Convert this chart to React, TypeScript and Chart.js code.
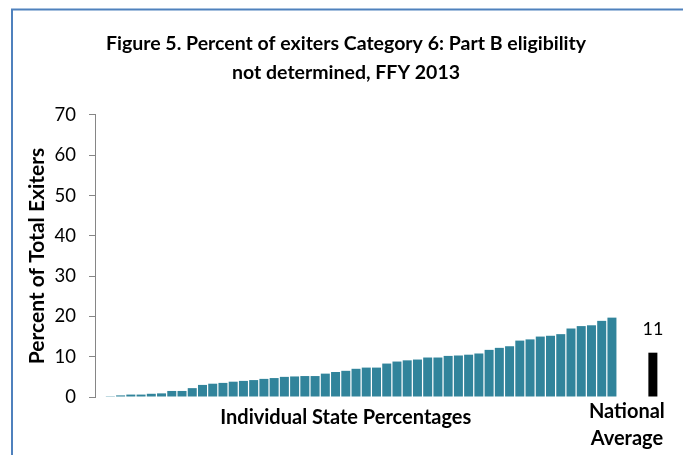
import React, { useEffect, useRef } from 'react';
import { Chart, registerables } from 'chart.js';

Chart.register(...registerables);

const titleLines = ['Figure 5. Percent of exiters Category 6: Part B eligibility', 'not determined, FFY 2013'];
const yAxisTitle = 'Percent of Total Exiters';
const stateAxisLabel = 'Individual State Percentages';
const nationalLabelLines = ['National', 'Average'];

// Individual state percentages, sorted ascending
const stateValues = [
  0.2, 0.4, 0.6, 0.6, 0.8, 0.9, 1.5, 1.5, 2.2, 3.0,
  3.3, 3.5, 3.8, 4.0, 4.2, 4.5, 4.7, 5.0, 5.1, 5.2,
  5.2, 5.8, 6.2, 6.5, 7.0, 7.3, 7.3, 8.3, 8.8, 9.1,
  9.3, 9.8, 9.8, 10.2, 10.3, 10.5, 10.8, 11.7, 12.2, 12.6,
  14.0, 14.3, 15.0, 15.2, 15.6, 17.0, 17.6, 17.8, 18.9, 19.7,
];
const nationalAverage = 11;
const nationalAverageLabel = '11';

const yMin = 0;
const yMax = 70;
const yStep = 10;

const leadingGap = 1;
const trailingGap = 3;
const stateLabelIndex = 24;

const STATE_COLOR = '#31849B';
const NATIONAL_COLOR = '#000000';
const FONT = 'Lato, "Open Sans", sans-serif';

export default function App() {
  const canvasRef = useRef<HTMLCanvasElement | null>(null);

  useEffect(() => {
    const canvas = canvasRef.current;
    if (!canvas) return;

    const labels: string[] = [];
    const data: (number | null)[] = [];
    const colors: string[] = [];
    for (let i = 0; i < leadingGap; i++) { labels.push(''); data.push(null); colors.push(STATE_COLOR); }
    stateValues.forEach((v, i) => { labels.push('State ' + (i + 1)); data.push(v); colors.push(STATE_COLOR); });
    for (let i = 0; i < trailingGap; i++) { labels.push(''); data.push(null); colors.push(STATE_COLOR); }
    labels.push(nationalLabelLines.join(' '));
    data.push(nationalAverage);
    colors.push(NATIONAL_COLOR);
    const nationalIndex = data.length - 1;

    const decor = {
      id: 'decor',
      beforeDraw(chart: any) {
        const ctx = chart.ctx;
        ctx.save();
        ctx.strokeStyle = '#4F81BD';
        ctx.lineWidth = 2;
        ctx.beginPath();
        ctx.moveTo(12, chart.height);
        ctx.lineTo(12, 9.5);
        ctx.lineTo(chart.width, 9.5);
        ctx.stroke();
        ctx.restore();
      },
      afterDatasetsDraw(chart: any) {
        const ctx = chart.ctx;
        const bar = chart.getDatasetMeta(0).data[nationalIndex];
        if (!bar) return;
        const bottom = chart.chartArea.bottom;
        ctx.save();
        ctx.fillStyle = '#000';
        ctx.textAlign = 'center';
        ctx.textBaseline = 'middle';
        ctx.font = '18px ' + FONT;
        ctx.fillText(nationalAverageLabel, bar.x, bar.y - 23);
        ctx.font = 'bold 20px ' + FONT;
        ctx.fillText(nationalLabelLines[0], bar.x - 26, bottom + 15);
        ctx.fillText(nationalLabelLines[1], bar.x - 26, bottom + 42);
        ctx.restore();
      },
    };

    const chart = new Chart(canvas, {
      type: 'bar',
      data: {
        labels,
        datasets: [
          {
            data,
            backgroundColor: colors,
            categoryPercentage: 1,
            barPercentage: 0.88,
          },
        ],
      },
      options: {
        animation: false,
        responsive: false,
        devicePixelRatio: 1,
        layout: { padding: { left: 34, right: 25, top: 0, bottom: 0 } },
        plugins: {
          legend: { display: false },
          tooltip: { enabled: false },
          title: {
            display: true,
            text: titleLines,
            color: '#000',
            font: { family: FONT, size: 19.5, weight: 'bold', lineHeight: 1.487 },
            padding: { top: 29, bottom: 28 },
          },
        },
        scales: {
          x: {
            type: 'category',
            offset: true,
            grid: { display: false, drawTicks: false },
            border: { display: false },
            ticks: {
              autoSkip: false,
              maxRotation: 0,
              minRotation: 0,
              padding: 9,
              color: '#000',
              font: { family: FONT, size: 20, weight: 'bold' },
              callback: (_v: any, i: number) => (i === stateLabelIndex ? stateAxisLabel : ''),
            },
            afterFit: (s: any) => { s.height = 58; },
          },
          y: {
            min: yMin,
            max: yMax,
            ticks: {
              stepSize: yStep,
              padding: 13,
              color: '#000',
              font: { family: FONT, size: 18.5 },
            },
            grid: { drawOnChartArea: false, color: '#868686', tickLength: 6 },
            border: { display: true, color: '#868686', width: 1 },
            title: {
              display: true,
              text: yAxisTitle,
              color: '#000',
              font: { family: FONT, size: 21, weight: 'bold' },
              padding: { top: -9.6, bottom: 0 },
            },
            afterFit: (s: any) => { s.width = 61; },
          },
        },
      },
      plugins: [decor],
    } as any);

    return () => chart.destroy();
  }, []);

  return (
    <div style={{ position: 'absolute', left: 0, top: 0, width: 683, height: 455, background: '#fff' }}>
      <canvas ref={canvasRef} width={683} height={455} />
    </div>
  );
}
